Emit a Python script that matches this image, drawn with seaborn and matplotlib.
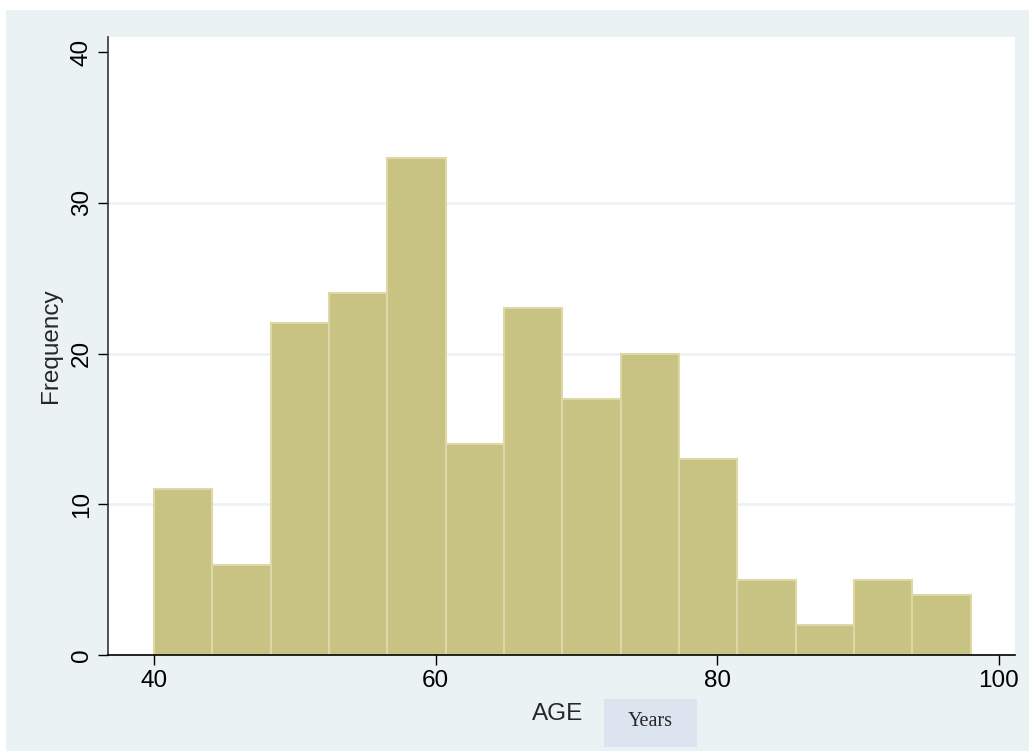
import numpy as np
import pandas as pd
import matplotlib.pyplot as plt
import seaborn as sns
from matplotlib.patches import Rectangle

# ---- data ----
bin_edges = list(np.linspace(40, 98, 15))    # 14 bins
counts = [11, 6, 22, 24, 33, 14, 23, 17, 20, 13, 5, 2, 5, 4]
y_ticks = [0, 10, 20, 30, 40]
x_ticks = [40, 60, 80, 100]

centers = [(a + b) / 2 for a, b in zip(bin_edges[:-1], bin_edges[1:])]
df = pd.DataFrame({"AGE": centers, "n": counts})

sns.set_style("white")
plt.rcParams['font.family'] = ['Liberation Sans', 'DejaVu Sans']

bg = "#EAF2F3"
fig = plt.figure(figsize=(10.29, 7.51), dpi=100)
fig.patch.set_facecolor("white")
fig.add_artist(Rectangle((6 / 1029, 0), 1 - 6 / 1029, 1 - 10 / 751,
                         transform=fig.transFigure, facecolor=bg,
                         edgecolor="none", zorder=0))

ax = fig.add_axes([0.105, 0.1278, 0.8814, 0.8229])
ax.set_facecolor("white")

sns.histplot(data=df, x="AGE", weights="n", bins=bin_edges, ax=ax,
             color="#C9C383", edgecolor="#DDD9A6", linewidth=1.5, alpha=1)

ax.set_xlim(36.73, 101.15)
ax.set_ylim(0, 41)
ax.set_xticks(x_ticks)
ax.set_yticks(y_ticks)
for y in [10, 20, 30]:
    ax.axhline(y, color=bg, lw=1.8, zorder=0)

for s in ["top", "right"]:
    ax.spines[s].set_visible(False)
ax.spines["left"].set_color("#333333")
ax.spines["bottom"].set_color("black")
ax.spines["left"].set_linewidth(1.2)
ax.spines["bottom"].set_linewidth(1.2)
ax.tick_params(axis="both", direction="out", length=7, width=1,
               labelsize=17.5, colors="black", pad=4, left=True, bottom=True)
ax.tick_params(axis="y", labelrotation=90)
for t in ax.get_yticklabels():
    t.set_va("center")

ax.set_ylabel("Frequency", fontsize=17.5, labelpad=6)
ax.set_xlabel("")
fig.text(558 / 1029, 1 - 714 / 751, "AGE", fontsize=17.5,
         ha="center", va="center")
fig.add_artist(Rectangle((604 / 1029, 1 - 747 / 751), 93 / 1029, 48 / 751,
                         transform=fig.transFigure, facecolor="#DCE4F0",
                         edgecolor="none", zorder=1))
fig.text(650 / 1029, 1 - 722 / 751, "Years", fontsize=14.5,
         family=["Liberation Serif", "DejaVu Serif"],
         ha="center", va="center", zorder=2)

plt.savefig("out.png", dpi=100, facecolor=fig.get_facecolor())
